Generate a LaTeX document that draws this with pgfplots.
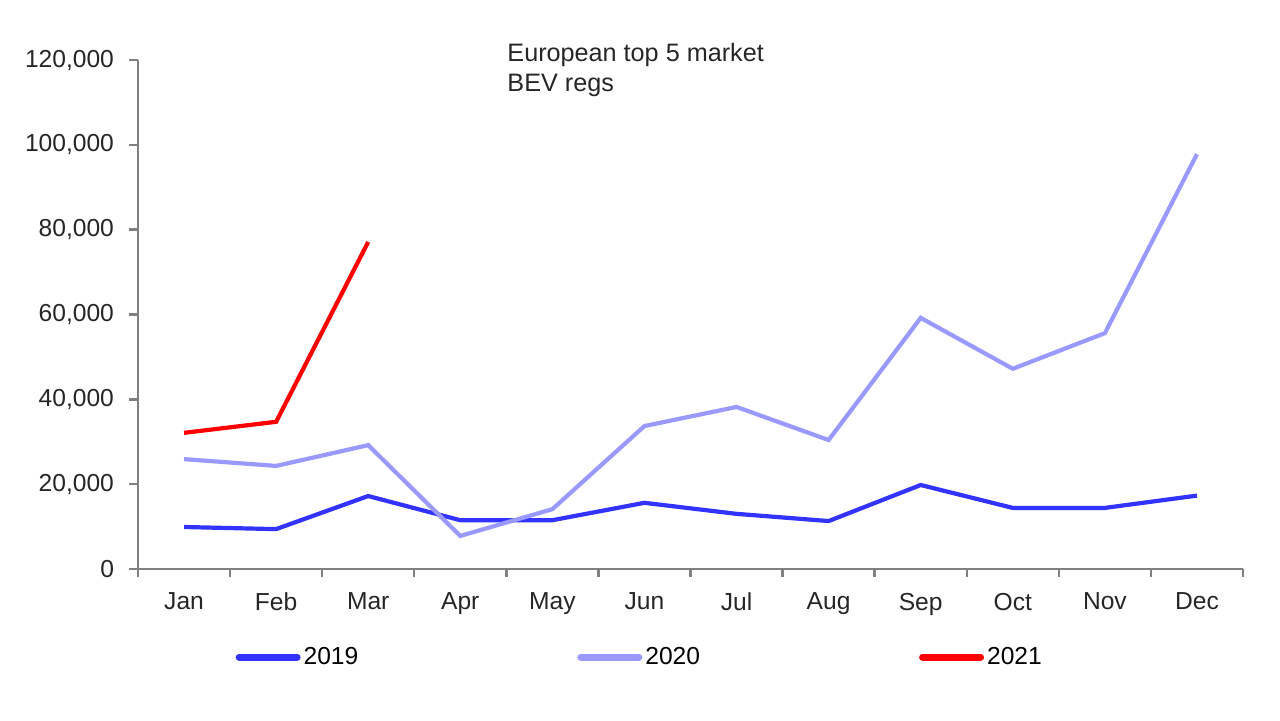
\documentclass[border=0pt]{standalone}
\usepackage{fontspec}
\setmainfont{Liberation Sans}
\usepackage{pgfplots}
\pgfplotsset{compat=1.18}
\definecolor{c19}{HTML}{3333FF}
\definecolor{c20}{HTML}{9999FF}
\definecolor{c21}{HTML}{FF0000}
\definecolor{axgray}{HTML}{808080}
\begin{document}
\begin{tikzpicture}[x=1pt,y=1pt]
\path[use as bounding box] (0,0) rectangle (640,360.5);
\begin{axis}[
  at={(69pt,76pt)}, anchor=south west,
  scale only axis, width=552.5pt, height=254.5pt,
  xmin=-0.5, xmax=11.5, ymin=0, ymax=120000,
  axis x line*=bottom, axis y line*=left,
  axis line style={axgray, line width=1.2pt},
  xtick={0,...,11},
  xticklabels={Jan,Feb,Mar,Apr,May,Jun,Jul,Aug,Sep,Oct,Nov,Dec},
  major x tick style={draw=none},
  minor xtick={-0.5,0.5,...,11.5},
  minor x tick style={axgray, line width=1.2pt},
  minor tick length=4pt,
  ytick={0,20000,...,120000},
  major y tick style={axgray, line width=1.2pt},
  major tick length=4.5pt,
  tick align=outside,
  scaled y ticks=false,
  /pgf/number format/1000 sep={,},
  /pgf/number format/fixed,
  /pgf/number format/assume math mode=true,
  yticklabel style={xshift=-4pt},
  xticklabel style={yshift=-4pt},
  tick label style={font=\fontsize{12.3}{14}\selectfont, text=black!85},
  clip=false,
  legend columns=3,
  legend style={draw=none, at={(axis description cs:0.088,-0.173)}, anchor=west,
    inner sep=0pt, font=\fontsize{12.3}{14}\selectfont,
    /tikz/every even column/.append style={column sep=108pt},
    nodes={inner sep=1.5pt}},
  legend image code/.code={\draw[#1, line width=3.5pt, line cap=round] (0pt,0pt) -- (29pt,0pt);},
]
\addplot[c19, line width=2.1pt] coordinates {
(0,9900) (1,9400) (2,17200) (3,11500) (4,11500) (5,15600) (6,13000) (7,11300) (8,19800) (9,14400) (10,14400) (11,17300)};
\addlegendentry{2019}
\addplot[c20, line width=2.1pt] coordinates {
(0,25900) (1,24300) (2,29200) (3,7800) (4,14100) (5,33700) (6,38200) (7,30400) (8,59200) (9,47200) (10,55600) (11,97800)};
\addlegendentry{2020}
\addplot[c21, line width=2.1pt] coordinates {
(0,32100) (1,34700) (2,77100)};
\addlegendentry{2021}
\node[anchor=north west, align=left, inner sep=0pt, font=\fontsize{12.6}{15}\selectfont, text=black!85]
  at (axis description cs:0.334,1.033) {European top 5 market\\BEV regs};
\end{axis}
\end{tikzpicture}
\end{document}
